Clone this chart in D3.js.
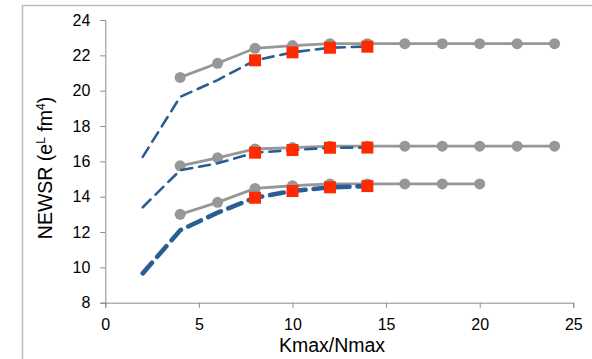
<!DOCTYPE html>
<html><head><meta charset="utf-8">
<script src="https://cdn.jsdelivr.net/npm/d3@7"></script>
<style>body{margin:0;background:#fff}svg{display:block}text{font-family:"Liberation Sans",Arial,sans-serif;fill:#000}</style>
</head><body><svg id="c" width="592" height="359"></svg>
<script>
const xTicks=[0,5,10,15,20,25];
const yTicks=[8,10,12,14,16,18,20,22,24];
const grayTopX=[4,6,8,10,12,14,16,18,20,22,24];
const grayTopY=[20.75,21.55,22.4,22.55,22.66,22.66,22.66,22.66,22.66,22.66,22.66];
const grayMidX=[4,6,8,10,12,14,16,18,20,22,24];
const grayMidY=[15.75,16.2,16.7,16.78,16.86,16.86,16.86,16.86,16.86,16.86,16.86];
const grayBotX=[4,6,8,10,12,14,16,18,20];
const grayBotY=[13.0,13.68,14.47,14.62,14.72,14.72,14.72,14.72,14.72];
const blueX=[2,4,6,8,10,12,14];
const blueTopY=[16.25,19.65,20.6,21.72,22.17,22.43,22.5];
const blueMidY=[13.4,15.5,15.89,16.49,16.64,16.77,16.78];
const blueBotY=[9.66,12.1,13.1,13.94,14.32,14.53,14.6];
const redX=[8,10,12,14];
const redTopY=[21.72,22.17,22.43,22.49];
const redMidY=[16.49,16.64,16.77,16.78];
const redBotY=[13.94,14.32,14.53,14.6];

const svg=d3.select("#c");
const L=105.3,R=573.3,T=20,B=302.7;
const x=d3.scaleLinear().domain([0,25]).range([L,R]);
const y=d3.scaleLinear().domain([8,24]).range([B,T]);

// outer frame
svg.append("path").attr("d","M22.5,359 V5.5 H592").attr("fill","none").attr("stroke","#bdbdbd").attr("stroke-width",1.5);

const gx=svg.append("g").attr("transform",`translate(0,${B})`)
 .call(d3.axisBottom(x).tickValues(xTicks).tickSize(5).tickPadding(11).tickFormat(d3.format("d")));
const gy=svg.append("g").attr("transform",`translate(${L},0)`)
 .call(d3.axisLeft(y).tickValues(yTicks).tickSize(5).tickPadding(10).tickFormat(d3.format("d")));
[gx,gy].forEach(g=>{
 g.select(".domain").attr("stroke","#8c8c8c");
 g.selectAll(".tick line").attr("stroke","#8c8c8c");
 g.selectAll(".tick text").attr("font-size","16px").attr("font-family","Liberation Sans, Arial, sans-serif").attr("fill","#000");
});

svg.append("text").attr("x",332).attr("y",352).attr("text-anchor","middle").attr("font-size","19.5px").text("Kmax/Nmax");
const yt=svg.append("text").attr("transform","translate(52,168) rotate(-90)").attr("text-anchor","middle").attr("font-size","19.5px");
yt.append("tspan").text("NEWSR (e");
yt.append("tspan").attr("font-size","12px").attr("dy","-7").text("L");
yt.append("tspan").attr("dy","7").text(" fm");
yt.append("tspan").attr("font-size","12px").attr("dy","-7").text("4");
yt.append("tspan").attr("dy","7").text(")");

const line=d3.line().x(d=>x(d[0])).y(d=>y(d[1]));
const zip=(a,b)=>a.map((v,i)=>[v,b[i]]);

const grays=[zip(grayTopX,grayTopY),zip(grayMidX,grayMidY),zip(grayBotX,grayBotY)];
grays.forEach(s=>{
 svg.append("path").attr("d",line(s)).attr("fill","none").attr("stroke","#979797").attr("stroke-width",2.8);
 svg.append("g").selectAll("circle").data(s).join("circle")
  .attr("cx",d=>x(d[0])).attr("cy",d=>y(d[1])).attr("r",5.5).attr("fill","#979797");
});

const blues=[[blueTopY,2.6,"11,7"],[blueMidY,2.6,"11,7"],[blueBotY,4.6,"14,8"]];
blues.forEach(([ys,w,da])=>{
 svg.append("path").attr("d",line(zip(blueX,ys))).attr("fill","none").attr("stroke","#2a5d94")
  .attr("stroke-width",w).attr("stroke-dasharray",da).attr("stroke-linecap","round");
});

[redTopY,redMidY,redBotY].forEach(ys=>{
 svg.append("g").selectAll("rect").data(zip(redX,ys)).join("rect")
  .attr("x",d=>x(d[0])-6).attr("y",d=>y(d[1])-6).attr("width",12).attr("height",12).attr("fill","#ff2a00");
});
</script></body></html>
